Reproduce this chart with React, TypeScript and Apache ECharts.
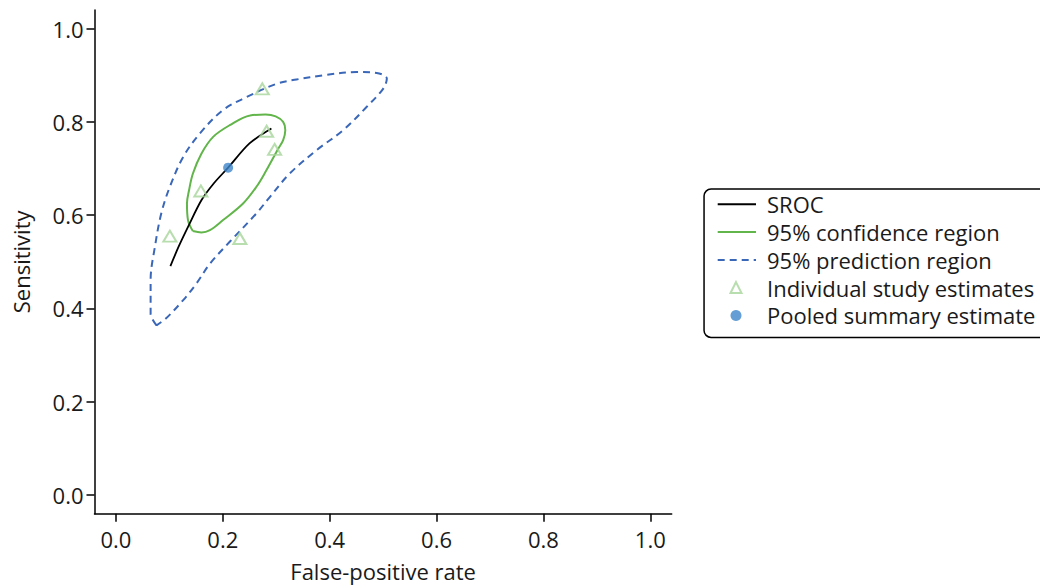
import React, { useEffect, useRef } from "react";
import * as echarts from "echarts";

const xTicks = [0, 0.2, 0.4, 0.6, 0.8, 1.0];
const yTicks = [0, 0.2, 0.4, 0.6, 0.8, 1.0];

const srocCurve: number[][] = [
  [0.102, 0.491], [0.118, 0.534], [0.135, 0.575], [0.160, 0.632],
  [0.183, 0.668], [0.210, 0.702], [0.250, 0.754], [0.291, 0.786],
];

const confidenceRegion: number[][] = [
  [0.144, 0.566], [0.160, 0.563], [0.176, 0.568], [0.200, 0.589],
  [0.238, 0.625], [0.263, 0.661], [0.280, 0.693], [0.304, 0.743],
  [0.313, 0.761], [0.317, 0.782], [0.313, 0.800], [0.299, 0.812],
  [0.280, 0.816], [0.251, 0.814], [0.213, 0.793], [0.182, 0.768],
  [0.160, 0.732], [0.144, 0.689], [0.137, 0.654], [0.133, 0.625],
  [0.135, 0.589], [0.144, 0.566],
];

const predictionRegion: number[][] = [
  [0.076, 0.364], [0.065, 0.389], [0.065, 0.461], [0.073, 0.532],
  [0.085, 0.604], [0.101, 0.661], [0.126, 0.725], [0.157, 0.775],
  [0.200, 0.825], [0.244, 0.853], [0.301, 0.882], [0.338, 0.891],
  [0.388, 0.900], [0.450, 0.907], [0.488, 0.905], [0.507, 0.893],
  [0.500, 0.871], [0.469, 0.832], [0.425, 0.782], [0.375, 0.739],
  [0.325, 0.689], [0.288, 0.639], [0.263, 0.604], [0.213, 0.543],
  [0.176, 0.496], [0.151, 0.454], [0.126, 0.418], [0.094, 0.379],
  [0.076, 0.364],
];

const studyEstimates: number[][] = [
  [0.274, 0.871], [0.282, 0.780], [0.297, 0.741],
  [0.159, 0.652], [0.101, 0.555], [0.232, 0.550],
];

const pooledEstimate: number[][] = [[0.210, 0.702]];

const seriesNames = [
  "SROC",
  "95% confidence region",
  "95% prediction region",
  "Individual study estimates",
  "Pooled summary estimate",
];

const FONT = "'Open Sans', sans-serif";
const TXT = "#1a1a1a";

export default function App() {
  const ref = useRef<HTMLDivElement>(null);
  useEffect(() => {
    if (!ref.current) return;
    const chart = echarts.init(ref.current, null, { renderer: "svg" });
    const axisCommon = {
      type: "value",
      min: -0.04,
      max: 1.04,
      nameLocation: "middle",
      nameTextStyle: { fontFamily: FONT, fontSize: 22, color: TXT },
      axisLine: { show: true, onZero: false, lineStyle: { color: "#000", width: 1.5 } },
      axisTick: { show: true, inside: false, length: 8, lineStyle: { color: "#000", width: 1.5 } },
      splitLine: { show: false },
    };
    const legendText = { fontFamily: FONT, fontSize: 22, color: TXT, lineHeight: 22 };
    chart.setOption({
      animation: false,
      backgroundColor: "#fff",
      textStyle: { fontFamily: FONT },
      grid: {
        left: 94.5, right: 368.3, top: 10, bottom: 72.3,
        containLabel: false, outerBoundsMode: "none",
      },
      xAxis: {
        ...axisCommon,
        name: "False-positive rate",
        nameGap: 46,
        axisTick: { ...axisCommon.axisTick, customValues: xTicks },
        axisLabel: {
          customValues: xTicks,
          formatter: (v: number) => v.toFixed(1),
          fontFamily: FONT, fontSize: 22, color: TXT, margin: 14,
        },
      },
      yAxis: {
        ...axisCommon,
        name: "Sensitivity",
        nameGap: 63,
        axisTick: { ...axisCommon.axisTick, customValues: yTicks },
        axisLabel: {
          customValues: yTicks,
          formatter: (v: number) => v.toFixed(1),
          fontFamily: FONT, fontSize: 22, color: TXT, margin: 11,
        },
      },
      graphic: [
        {
          type: "rect",
          left: 703.3,
          top: 188.3,
          shape: { width: 400, height: 148.4, r: 7 },
          style: { fill: "#fff", stroke: "#000", lineWidth: 1.5 },
          z: 0,
        },
      ],
      legend: [
        {
          data: seriesNames.slice(0, 3),
          orient: "vertical",
          left: 716.7,
          top: 193.3,
          padding: 0,
          itemWidth: 38.3,
          itemHeight: 14,
          itemGap: 5.8,
          itemStyle: { opacity: 0 },
          textStyle: { ...legendText, padding: [0, 0, 0, 6] },
          z: 10,
        },
        {
          data: seriesNames.slice(3),
          orient: "vertical",
          left: 729.5,
          top: 276.6,
          padding: 0,
          itemWidth: 11,
          itemHeight: 11,
          itemGap: 5.8,
          textStyle: { ...legendText, padding: [0, 0, 0, 20.5] },
          z: 10,
        },
      ],
      series: [
        {
          name: seriesNames[2],
          type: "line",
          data: predictionRegion,
          smooth: 0.35,
          symbol: "none",
          lineStyle: { color: "#3a67b7", width: 2, type: [7, 5] },
          itemStyle: { color: "#3a67b7" },
          z: 2,
        },
        {
          name: seriesNames[1],
          type: "line",
          data: confidenceRegion,
          smooth: 0.35,
          symbol: "none",
          lineStyle: { color: "#62b54a", width: 2 },
          itemStyle: { color: "#62b54a" },
          z: 3,
        },
        {
          name: seriesNames[0],
          type: "line",
          data: srocCurve,
          smooth: 0.3,
          symbol: "none",
          lineStyle: { color: "#000", width: 1.8 },
          itemStyle: { color: "#000" },
          z: 4,
        },
        {
          name: seriesNames[3],
          type: "scatter",
          data: studyEstimates,
          symbol: "triangle",
          symbolSize: [13, 11],
          itemStyle: { color: "rgba(255,255,255,0)", borderColor: "#a6d49a", borderWidth: 2 },
          z: 5,
        },
        {
          name: seriesNames[4],
          type: "scatter",
          data: pooledEstimate,
          symbol: "circle",
          symbolSize: 10,
          itemStyle: { color: "#3f86c9" },
          z: 6,
        },
      ],
    });
    return () => chart.dispose();
  }, []);
  return (
    <div
      ref={ref}
      style={{ position: "absolute", left: 0, top: 0, width: 1040, height: 586 }}
    />
  );
}
